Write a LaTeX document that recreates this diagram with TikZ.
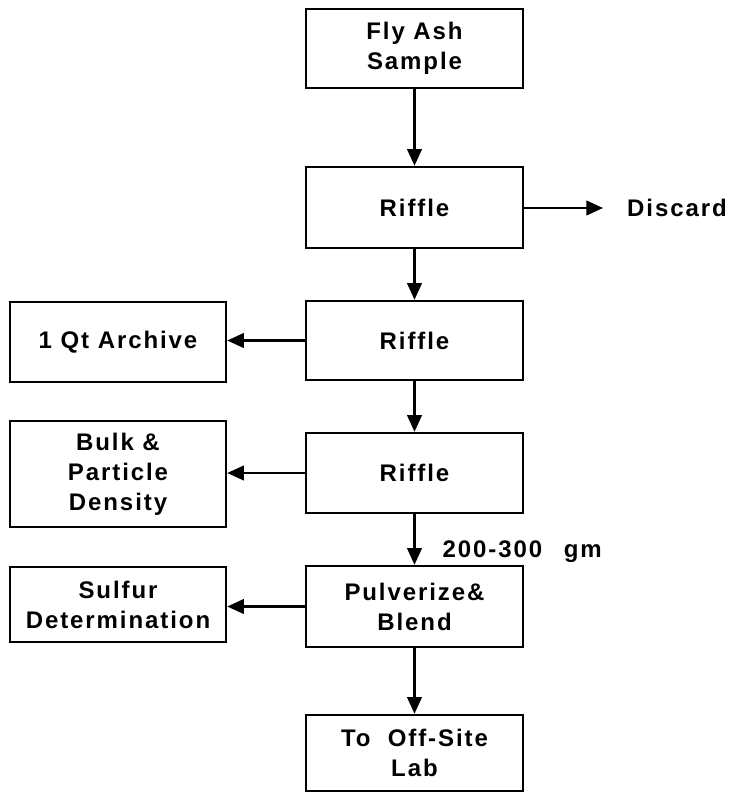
\documentclass[tikz,border=0pt]{standalone}
\usepackage{fontspec}
\setmainfont{Liberation Sans}[LetterSpace=8]
\usetikzlibrary{arrows.meta}
\begin{document}
\begin{tikzpicture}[x=0.75pt,y=-0.75pt,
  txt/.style={font=\bfseries\fontsize{18}{22.5}\selectfont},
  box/.style={draw,line width=1.9pt,align=center,txt,inner sep=0pt},
  mid/.style={box,minimum width=162.75pt},
  side/.style={box,minimum width=162pt},
  conn/.style={line width=1.6pt,-{Triangle[length=12.5pt,width=11pt]}}]
\useasboundingbox (0,0) rectangle (739,794);
\node[mid,minimum height=59.25pt] (fly) at (414.5,48.5) {Fly Ash\\Sample};
\node[mid,minimum height=60.75pt] (r1) at (414.5,207.5) {Riffle};
\node[mid,minimum height=59.25pt] (r2) at (414.5,340.5) {Riffle};
\node[mid,minimum height=60pt] (r3) at (414.5,473) {Riffle};
\node[mid,minimum height=60.75pt] (pulv) at (414.5,606.5) {Pulverize\&\\Blend};
\node[mid,minimum height=57pt] (lab) at (414.5,753) {To\ \ Off-Site\\Lab};
\node[side,minimum height=60pt] (arch) at (118,342) {1 Qt Archive};
\node[side,minimum height=79.5pt] (bulk) at (118,474) {Bulk \&\\Particle\\Density};
\node[side,minimum height=56.25pt] (sulf) at (118,604.5) {Sulfur\\Determination};
\node[txt] (disc) at (677,208) {Discard};
\coordinate (dtip) at (603,208);
\node[txt,anchor=west] (gm) at (438,552) {200-300\hspace{0.9em}gm};
\draw[conn] (fly) -- (r1);
\draw[conn] (r1) -- (r2);
\draw[conn] (r2) -- (r3);
\draw[conn] (r3) -- (pulv);
\draw[conn] (pulv) -- (lab);
\draw[conn] (r1.east |- dtip) -- (dtip);
\draw[conn] (r2.west) -- (r2.west -| arch.east);
\draw[conn] (r3.west) -- (r3.west -| bulk.east);
\draw[conn] (pulv.west) -- (pulv.west -| sulf.east);
\end{tikzpicture}
\end{document}
